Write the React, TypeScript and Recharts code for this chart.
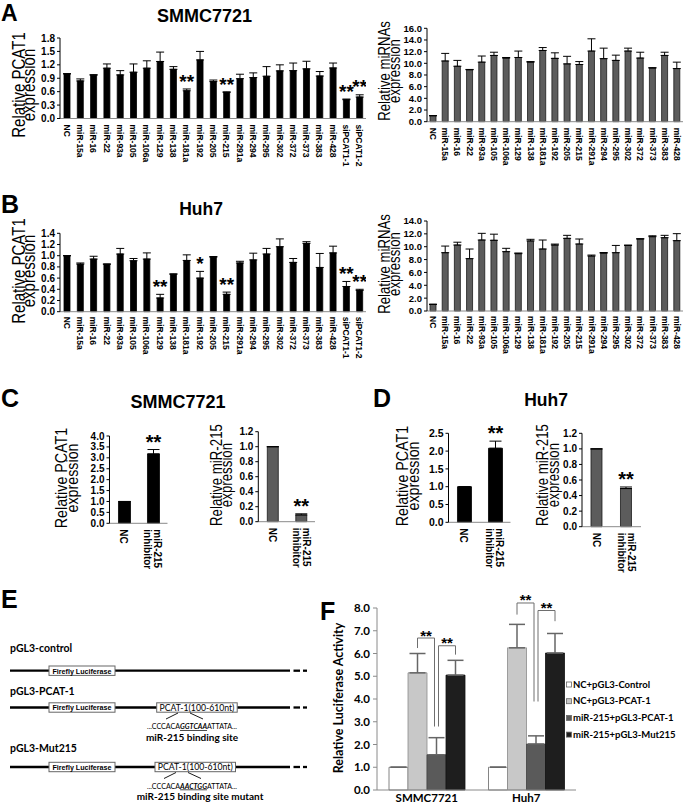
import React from 'react';
import { BarChart, Bar, XAxis, YAxis, ErrorBar, LabelList, Legend } from 'recharts';

const ARIAL = '"Liberation Sans", Arial, Helvetica, sans-serif';
const CAL = 'Lato, "Open Sans", sans-serif';
const NARROW = '"Liberation Sans Narrow", "Liberation Sans", Arial, sans-serif';

// ---------- Panels A / B ----------
const pcatCategories = ['NC', 'miR-15a', 'miR-16', 'miR-22', 'miR-93a', 'miR-105', 'miR-106a', 'miR-129', 'miR-138', 'miR-181a', 'miR-192', 'miR-205', 'miR-215', 'miR-291a', 'miR-294', 'miR-295', 'miR-302', 'miR-372', 'miR-373', 'miR-383', 'miR-428', 'siPCAT1-1', 'siPCAT1-2'];
const mirCategories = ['NC', 'miR-15a', 'miR-16', 'miR-22', 'miR-93a', 'miR-105', 'miR-106a', 'miR-129', 'miR-138', 'miR-181a', 'miR-192', 'miR-205', 'miR-215', 'miR-291a', 'miR-294', 'miR-295', 'miR-302', 'miR-372', 'miR-373', 'miR-383', 'miR-428'];

const smmcPcatValues = [1.0, 0.84, 0.97, 1.125, 0.975, 1.035, 1.125, 1.275, 1.10, 0.62, 1.31, 0.825, 0.585, 0.89, 0.915, 0.945, 1.065, 1.07, 1.11, 0.95, 1.13, 0.42, 0.48];
const smmcPcatErrors = [0, 0.045, 0.01, 0.095, 0.095, 0.185, 0.165, 0.21, 0.06, 0.04, 0.19, 0.035, 0.01, 0.10, 0.105, 0.215, 0.135, 0.17, 0.17, 0.10, 0.11, 0.015, 0.05];
const smmcPcatSig = ['', '', '', '', '', '', '', '', '', '**', '', '', '**', '', '', '', '', '', '', '', '', '**', '**'];

const smmcMirValues = [1.03, 10.4, 9.5, 8.9, 10.2, 11.35, 10.9, 11.0, 10.2, 12.2, 10.85, 9.9, 9.8, 12.1, 10.8, 10.5, 12.1, 10.9, 9.2, 11.35, 9.1];
const smmcMirErrors = [0, 1.3, 1.0, 0.05, 1.05, 0.55, 0.1, 1.1, 0.1, 0.5, 0.95, 1.3, 0.5, 2.1, 1.8, 0.9, 0.5, 1.0, 0.05, 0.55, 1.1];

const huhPcatValues = [1.0, 0.85, 0.94, 0.85, 1.03, 0.91, 0.94, 0.245, 0.67, 0.915, 0.60, 0.975, 0.31, 0.87, 0.925, 1.03, 1.16, 0.88, 1.22, 0.79, 1.05, 0.45, 0.38];
const huhPcatErrors = [0, 0.02, 0.05, 0, 0.1, 0.04, 0.11, 0.065, 0.005, 0.1, 0.12, 0.01, 0.04, 0.03, 0.12, 0.1, 0.14, 0.07, 0.03, 0.25, 0.12, 0.09, 0.02];
const huhPcatSig = ['', '', '', '', '', '', '', '**', '', '', '*', '', '**', '', '', '', '', '', '', '', '', '**', '**'];

const huhMirValues = [1.04, 9.07, 10.26, 8.14, 11.04, 11.0, 9.23, 8.92, 10.9, 9.64, 10.26, 11.3, 10.42, 8.55, 9.0, 9.07, 10.2, 11.2, 11.56, 11.4, 10.94];
const huhMirErrors = [0, 1.03, 0.44, 1.5, 1.04, 0.95, 0.52, 0.1, 0.25, 1.4, 0.15, 0.47, 0.78, 0.15, 0.1, 1.13, 0.05, 0.05, 0.14, 0.37, 1.09];

// ---------- Panels C / D ----------
const inhibitorCategories = ['NC', 'miR-215\ninhibitor'];
const smmcInhPcatValues = [1.0, 3.18];
const smmcInhPcatErrors = [0, 0.2];
const smmcInhMirValues = [1.0, 0.09];
const smmcInhMirErrors = [0, 0.015];
const huhInhPcatValues = [1.0, 2.08];
const huhInhPcatErrors = [0, 0.2];
const huhInhMirValues = [1.0, 0.49];
const huhInhMirErrors = [0, 0.02];
const inhibitorSig = ['', '**'];

// ---------- Panel F ----------
const lucGroups = ['SMMC7721', 'Huh7'];
const lucSeriesNames = ['NC+pGL3-Control', 'NC+pGL3-PCAT-1', 'miR-215+pGL3-PCAT-1', 'miR-215+pGL3-Mut215'];
const lucSeriesColors = ['#ffffff', '#c8c8c8', '#5a5a5a', '#1e1e1e'];
const lucNcControl = [1.0, 1.0];
const lucNcPcat = [5.15, 6.25];
const lucMirPcat = [1.55, 2.02];
const lucMirMut = [5.05, 6.02];
const lucNcControlErr = [0, 0];
const lucNcPcatErr = [0.85, 1.03];
const lucMirPcatErr = [0.75, 0.36];
const lucMirMutErr = [0.65, 0.86];
// significance brackets: [left leg end, top, right leg end]
const bracketLeft = [[6.24, 6.68, 2.79], [7.71, 8.22, 3.89]];
const bracketRight = [[2.79, 6.34, 5.95], [3.89, 7.89, 7.42]];

const pcatTicksA = [0, 0.3, 0.6, 0.9, 1.2, 1.5, 1.8];
const mirTicksA = [0, 2, 4, 6, 8, 10, 12, 14, 16];
const pcatTicksB = [0, 0.2, 0.4, 0.6, 0.8, 1.0, 1.2, 1.4];
const mirTicksB = [0, 2, 4, 6, 8, 10, 12, 14];
const cLeftTicks = [0, 0.5, 1.0, 1.5, 2.0, 2.5, 3.0, 3.5, 4.0];
const mir215Ticks = [0, 0.2, 0.4, 0.6, 0.8, 1.0, 1.2];
const dLeftTicks = [0, 0.5, 1.0, 1.5, 2.0, 2.5];
const lucTicks = [0, 1, 2, 3, 4, 5, 6, 7, 8];

type Row = { name: string; v: number; e: [number, number]; sig: string };
const makeRows = (cats: string[], vals: number[], errs: number[], sigs?: string[]): Row[] =>
  cats.map((name, i) => ({ name, v: vals[i], e: [0, errs[i]], sig: sigs ? sigs[i] : '' }));

const RotTick = (props: any) => {
  const { x, y, payload, fs, lh } = props;
  const lines = String(payload.value).split('\n');
  const n = lines.length;
  return (
    <g transform={`translate(${x},${y}) rotate(90)`}>
      <text x={0} y={0} fontSize={fs} fontWeight={700} fontFamily={ARIAL} fill="#000" textAnchor="start">
        {lines.map((l, i) => (
          <tspan key={i} x={0} y={(i - (n - 1) / 2) * lh + 0.35 * fs}>{l}</tspan>
        ))}
      </text>
    </g>
  );
};

const starRenderer = (rows: Row[], fs: number) => (p: any) => {
  const vb = p.viewBox || p;
  const row = rows.find((r) => r.name === p.value) || rows[p.index];
  if (!row || !row.sig) return null;
  const top = Math.min(vb.y, vb.y + vb.height);
  const h = Math.abs(vb.height);
  const base = top + h;
  const scale = h / row.v;
  const errY = base - (row.v + row.e[1]) * scale;
  return (
    <text x={vb.x + vb.width / 2} y={errY + 0.3 * fs - 7} textAnchor="middle" fontSize={fs} fontWeight={700} fontFamily={ARIAL} fill="#000">
      {row.sig}
    </text>
  );
};

type SmallProps = {
  left: number; top: number; x0: number; x1: number; yTop: number; yZero: number; xAxisHeight: number;
  rows: Row[]; max: number; ticks: number[]; fill: string; stroke: string; barSize: number;
  tickFs: number; catFs: number; catLh?: number; catMargin: number; starFs: number; capW?: number;
};

const SmallBarChart = (p: SmallProps) => {
  const width = p.x1 - p.left;
  const height = p.yZero - p.top + p.xAxisHeight;
  const yAxisWidth = p.x0 - p.left;
  return (
    <div style={{ position: 'absolute', left: p.left, top: p.top, width, height }}>
      <BarChart width={width} height={height} data={p.rows} margin={{ top: p.yTop - p.top, right: 0, bottom: 0, left: 0 }} barCategoryGap={0}>
        <XAxis
          dataKey="name"
          interval={0}
          tickLine={false}
          tickSize={0}
          tickMargin={p.catMargin}
          height={p.xAxisHeight}
          axisLine={{ stroke: '#8a8a8a', strokeWidth: 1 }}
          tick={(tp: any) => <RotTick {...tp} fs={p.catFs} lh={p.catLh || p.catFs} />}
        />
        <YAxis
          type="number"
          domain={[0, p.max]}
          ticks={p.ticks}
          interval={0}
          width={yAxisWidth}
          tickSize={3}
          tickMargin={2}
          axisLine={{ stroke: '#000', strokeWidth: 1 }}
          tickLine={{ stroke: '#000', strokeWidth: 1 }}
          tickFormatter={(v: number) => v.toFixed(1)}
          tick={{ fontSize: p.tickFs, fontWeight: 700, fill: '#000', fontFamily: ARIAL }}
        />
        <Bar dataKey="v" fill={p.fill} stroke={p.stroke} strokeWidth={0.8} barSize={p.barSize} isAnimationActive={false}>
          <ErrorBar dataKey="e" width={p.capW || 4} stroke="#000" strokeWidth={1} direction="y" isAnimationActive={false} />
          <LabelList dataKey="name" content={starRenderer(p.rows, p.starFs)} />
        </Bar>
      </BarChart>
    </div>
  );
};

// ---------- Panel F ----------
const lucRows = lucGroups.map((name, i) => ({
  name,
  s1: lucNcControl[i], s2: lucNcPcat[i], s3: lucMirPcat[i], s4: lucMirMut[i],
  e1: [0, lucNcControlErr[i]], e2: [0, lucNcPcatErr[i]], e3: [0, lucMirPcatErr[i]], e4: [0, lucMirMutErr[i]],
}));

const bracketRenderer = (p: any) => {
  const vb = p.viewBox || p;
  let i = lucGroups.indexOf(p.value);
  if (i < 0) i = p.index || 0;
  const top = Math.min(vb.y, vb.y + vb.height);
  const h = Math.abs(vb.height);
  const base = top + h;
  const scale = h / lucNcPcat[i];
  const Y = (v: number) => base - v * scale;
  const w = vb.width;
  const c2 = vb.x + w / 2;
  const c3 = vb.x + w * 1.5;
  const c4 = vb.x + w * 2.5;
  const L = bracketLeft[i];
  const R = bracketRight[i];
  const fs = 15;
  return (
    <g>
      <polyline fill="none" stroke="#6e6e6e" strokeWidth={1} points={`${c2},${Y(L[0])} ${c2},${Y(L[1])} ${c3 - 2},${Y(L[1])} ${c3 - 2},${Y(L[2])}`} />
      <polyline fill="none" stroke="#6e6e6e" strokeWidth={1} points={`${c3 + 2},${Y(R[0])} ${c3 + 2},${Y(R[1])} ${c4},${Y(R[1])} ${c4},${Y(R[2])}`} />
      <text x={(c2 + c3 - 2) / 2} y={Y(L[1]) + 2.5} textAnchor="middle" fontSize={fs} fontWeight={700} fontFamily={ARIAL} fill="#000">**</text>
      <text x={(c3 + 2 + c4) / 2} y={Y(R[1]) + 2.5} textAnchor="middle" fontSize={fs} fontWeight={700} fontFamily={ARIAL} fill="#000">**</text>
    </g>
  );
};

const LucLegend = () => (
  <svg width={118} height={66} style={{ display: 'block' }}>
    {lucSeriesNames.map((n, i) => (
      <g key={n}>
        <rect x={1.5} y={5 + i * 16.7} width={5} height={5} fill={lucSeriesColors[i]} stroke="#666" strokeWidth={0.8} />
        <text x={8} y={10.5 + i * 16.7} fontSize={9.5} fontWeight={700} fontFamily={CAL} fill="#000">{n}</text>
      </g>
    ))}
  </svg>
);

const LuciferaseChart = () => {
  const left = 330, top = 585;
  const width = 683 - left, height = 805 - top;
  return (
    <div style={{ position: 'absolute', left, top, width, height }}>
      <BarChart width={width} height={height} data={lucRows} margin={{ top: 23, right: 107, bottom: 0, left: 0 }} barGap={0} barCategoryGap={0}>
        <XAxis dataKey="name" tickLine={false} tickSize={0} tickMargin={4} height={15} axisLine={{ stroke: '#8a8a8a' }}
          tick={{ fontSize: 11.5, fontWeight: 700, fill: '#000', fontFamily: CAL }} />
        <YAxis type="number" domain={[0, 8]} ticks={lucTicks} interval={0} width={47} tickSize={4} tickMargin={3}
          axisLine={{ stroke: '#8a8a8a' }} tickLine={{ stroke: '#8a8a8a' }} tickFormatter={(v: number) => v.toFixed(1)}
          tick={{ fontSize: 11.5, fontWeight: 700, fill: '#000', fontFamily: CAL }} />
        <Legend layout="vertical" align="center" verticalAlign="middle" wrapperStyle={{ left: 235, top: 92, width: 118 }} content={() => <LucLegend />} />
        <Bar dataKey="s1" name={lucSeriesNames[0]} fill={lucSeriesColors[0]} stroke="#666" strokeWidth={0.8} barSize={19} isAnimationActive={false}>
          <ErrorBar dataKey="e1" width={8} stroke="#666" direction="y" isAnimationActive={false} />
        </Bar>
        <Bar dataKey="s2" name={lucSeriesNames[1]} fill={lucSeriesColors[1]} stroke="#8c8c8c" strokeWidth={0.8} barSize={19} isAnimationActive={false}>
          <ErrorBar dataKey="e2" width={8} stroke="#666" direction="y" isAnimationActive={false} />
          <LabelList dataKey="name" content={bracketRenderer} />
        </Bar>
        <Bar dataKey="s3" name={lucSeriesNames[2]} fill={lucSeriesColors[2]} stroke="#444" strokeWidth={0.8} barSize={19} isAnimationActive={false}>
          <ErrorBar dataKey="e3" width={8} stroke="#666" direction="y" isAnimationActive={false} />
        </Bar>
        <Bar dataKey="s4" name={lucSeriesNames[3]} fill={lucSeriesColors[3]} stroke="#111" strokeWidth={0.8} barSize={19} isAnimationActive={false}>
          <ErrorBar dataKey="e4" width={8} stroke="#666" direction="y" isAnimationActive={false} />
        </Bar>
      </BarChart>
    </div>
  );
};

// ---------- static text helpers ----------
const YLab = ({ lines, xs, cy, fs, family = ARIAL, weight = 400, k = 1 }: any) => (
  <>
    {lines.map((l: string, i: number) => (
      <text key={i} transform={`translate(${xs[i]},${cy}) rotate(-90) scale(1,${k})`} textAnchor="middle" fontSize={fs} fontFamily={family} fontWeight={weight} fill="#000">{l}</text>
    ))}
  </>
);

const Construct = ({ y, label, labelY, pcatX, seqY, seqPre, seqMid, seqPost, siteLabel, siteX, siteY, diag }: any) => (
  <g>
    <text x={10} y={labelY} fontSize={10.5} fontWeight={700} fontFamily={CAL} fill="#000">{label}</text>
    <line x1={10} y1={y} x2={290} y2={y} stroke="#000" strokeWidth={2.3} />
    <line x1={293.5} y1={y} x2={300} y2={y} stroke="#000" strokeWidth={2.3} />
    <line x1={303} y1={y} x2={307} y2={y} stroke="#000" strokeWidth={2.3} />
    <rect x={49} y={y - 4.7} width={66} height={9.4} fill="#fff" stroke="#666" strokeWidth={1} />
    <text x={82} y={y + 2.8} textAnchor="middle" fontSize={7.6} fontWeight={700} fontFamily={NARROW} textLength={59} lengthAdjust="spacingAndGlyphs" fill="#000">Firefly Luciferase</text>
    {pcatX !== undefined && (
      <g>
        <rect x={pcatX} y={y - 4.7} width={80.5} height={9.4} fill="#fff" stroke="#666" strokeWidth={1} />
        <text x={pcatX + 40.25} y={y + 3.2} textAnchor="middle" fontSize={9} fontFamily={CAL} textLength={75} lengthAdjust="spacingAndGlyphs" fill="#000">PCAT-1(100-610nt)</text>
        <line x1={diag[0]} y1={y + 5.5} x2={diag[0] - 12} y2={y + 11.5} stroke="#000" strokeWidth={0.9} />
        <line x1={diag[1]} y1={y + 5.5} x2={diag[1] + 13} y2={y + 11.5} stroke="#000" strokeWidth={0.9} />
        <text x={147} y={seqY} fontSize={7} fontFamily={CAL} textLength={90} lengthAdjust="spacingAndGlyphs" fill="#000">
          {seqPre}
          <tspan fontStyle="italic" fontWeight={700} textDecoration="underline">{seqMid}</tspan>
          {seqPost}
        </text>
        <text x={siteX} y={siteY} textAnchor="middle" fontSize={10} fontWeight={700} fontFamily={CAL} fill="#000">{siteLabel}</text>
      </g>
    )}
  </g>
);

export default function App() {
  const smmcPcatRows = makeRows(pcatCategories, smmcPcatValues, smmcPcatErrors, smmcPcatSig);
  const smmcMirRows = makeRows(mirCategories, smmcMirValues, smmcMirErrors);
  const huhPcatRows = makeRows(pcatCategories, huhPcatValues, huhPcatErrors, huhPcatSig);
  const huhMirRows = makeRows(mirCategories, huhMirValues, huhMirErrors);
  const cLeftRows = makeRows(inhibitorCategories, smmcInhPcatValues, smmcInhPcatErrors, inhibitorSig);
  const cRightRows = makeRows(inhibitorCategories, smmcInhMirValues, smmcInhMirErrors, inhibitorSig);
  const dLeftRows = makeRows(inhibitorCategories, huhInhPcatValues, huhInhPcatErrors, inhibitorSig);
  const dRightRows = makeRows(inhibitorCategories, huhInhMirValues, huhInhMirErrors, inhibitorSig);

  return (
    <div style={{ position: 'absolute', left: 0, top: 0, width: 683, height: 805, background: '#fff', overflow: 'hidden' }}>
      <SmallBarChart left={0} top={30} x0={60} x1={366} yTop={38} yZero={118.5} xAxisHeight={52} rows={smmcPcatRows} max={1.8} ticks={pcatTicksA}
        fill="#000" stroke="#000" barSize={6} tickFs={10} catFs={8.5} catMargin={6} starFs={19} />
      <SmallBarChart left={370} top={20} x0={427} x1={683} yTop={28.3} yZero={121.7} xAxisHeight={52} rows={smmcMirRows} max={16} ticks={mirTicksA}
        fill="#5c5c5c" stroke="#1a1a1a" barSize={6} tickFs={9.5} catFs={8.5} catMargin={6} starFs={19} />
      <SmallBarChart left={0} top={225} x0={60} x1={366} yTop={233.3} yZero={311.7} xAxisHeight={55} rows={huhPcatRows} max={1.4} ticks={pcatTicksB}
        fill="#000" stroke="#000" barSize={6} tickFs={10} catFs={8.5} catMargin={5} starFs={19} />
      <SmallBarChart left={370} top={213} x0={427} x1={683} yTop={221} yZero={311} xAxisHeight={55} rows={huhMirRows} max={14} ticks={mirTicksB}
        fill="#5c5c5c" stroke="#1a1a1a" barSize={6} tickFs={9.5} catFs={8.5} catMargin={5} starFs={19} />

      <SmallBarChart left={50} top={420} x0={109.5} x1={167.5} yTop={436} yZero={523.3} xAxisHeight={65} rows={cLeftRows} max={4} ticks={cLeftTicks}
        fill="#000" stroke="#000" barSize={12} tickFs={10} catFs={10} catLh={10} catMargin={6} starFs={20} capW={6} />
      <SmallBarChart left={200} top={420} x0={258.3} x1={315.3} yTop={431.7} yZero={521.7} xAxisHeight={65} rows={cRightRows} max={1.2} ticks={mir215Ticks}
        fill="#5c5c5c" stroke="#1a1a1a" barSize={11} tickFs={10} catFs={10} catLh={10} catMargin={6} starFs={20} capW={6} />
      <SmallBarChart left={390} top={420} x0={448.5} x1={510.5} yTop={433.3} yZero={522.3} xAxisHeight={65} rows={dLeftRows} max={2.5} ticks={dLeftTicks}
        fill="#000" stroke="#000" barSize={14} tickFs={10.5} catFs={10} catLh={10} catMargin={6} starFs={20} capW={6} />
      <SmallBarChart left={530} top={420} x0={582} x1={641} yTop={433.3} yZero={526.7} xAxisHeight={60} rows={dRightRows} max={1.2} ticks={mir215Ticks}
        fill="#5c5c5c" stroke="#1a1a1a" barSize={11} tickFs={10} catFs={10} catLh={10} catMargin={6} starFs={20} capW={6} />

      <LuciferaseChart />

      <svg width={683} height={805} style={{ position: 'absolute', left: 0, top: 0, pointerEvents: 'none' }}>
        <g fontFamily={ARIAL} fontWeight={700} fill="#000">
          <text x={1} y={21} fontSize={23}>A</text>
          <text x={1} y={213} fontSize={25}>B</text>
          <text x={1} y={407} fontSize={25}>C</text>
          <text x={373} y={407} fontSize={25}>D</text>
          <text x={1} y={608} fontSize={25}>E</text>
          <text x={320} y={620} fontSize={25}>F</text>
          <text x={204.5} y={21.5} fontSize={18} textAnchor="middle">SMMC7721</text>
          <text x={201} y={215} fontSize={17.5} textAnchor="middle">Huh7</text>
          <text x={178} y={408} fontSize={18} textAnchor="middle">SMMC7721</text>
          <text x={546} y={406} fontSize={17.5} textAnchor="middle">Huh7</text>
        </g>
        <YLab lines={['Relative PCAT1', 'expression']} xs={[25, 35]} cy={85} fs={15} k={1.2} />
        <YLab lines={['Relative miRNAs', 'expression']} xs={[390, 400]} cy={71} fs={13.2} k={1.2} />
        <YLab lines={['Relative PCAT1', 'expression']} xs={[25, 35]} cy={271} fs={15} k={1.2} />
        <YLab lines={['Relative miRNAs', 'expression']} xs={[390, 400]} cy={264} fs={13.2} k={1.2} />
        <YLab lines={['Relative PCAT1', 'expression']} xs={[67, 78]} cy={478} fs={14.3} k={1.2} />
        <YLab lines={['Relative miR-215', 'expression']} xs={[222, 232]} cy={475} fs={13.3} k={1.2} />
        <YLab lines={['Relative PCAT1', 'expression']} xs={[408, 418.5]} cy={476} fs={14.3} k={1.2} />
        <YLab lines={['Relative miR-215', 'expression']} xs={[548, 558.5]} cy={475} fs={13.3} k={1.2} />
        <YLab lines={['Relative Luciferase Activity']} xs={[343]} cy={698} fs={12.5} family={CAL} weight={700} />

        <Construct y={670.7} label="pGL3-control" labelY={652} />
        <Construct y={707.5} label="pGL3-PCAT-1" labelY={695} pcatX={156.7} seqY={729} seqPre="...CCCACA" seqMid="GGTCAA" seqPost="ATTATA..."
          siteLabel="miR-215 binding site" siteX={192} siteY={740.5} diag={[178, 190]} />
        <Construct y={767} label="pGL3-Mut215" labelY={752} pcatX={155} seqY={788.5} seqPre="...CCCACA" seqMid="AACTGG" seqPost="ATTATA..."
          siteLabel="miR-215 binding site mutant" siteX={200} siteY={799.5} diag={[176, 188]} />
      </svg>
    </div>
  );
}
